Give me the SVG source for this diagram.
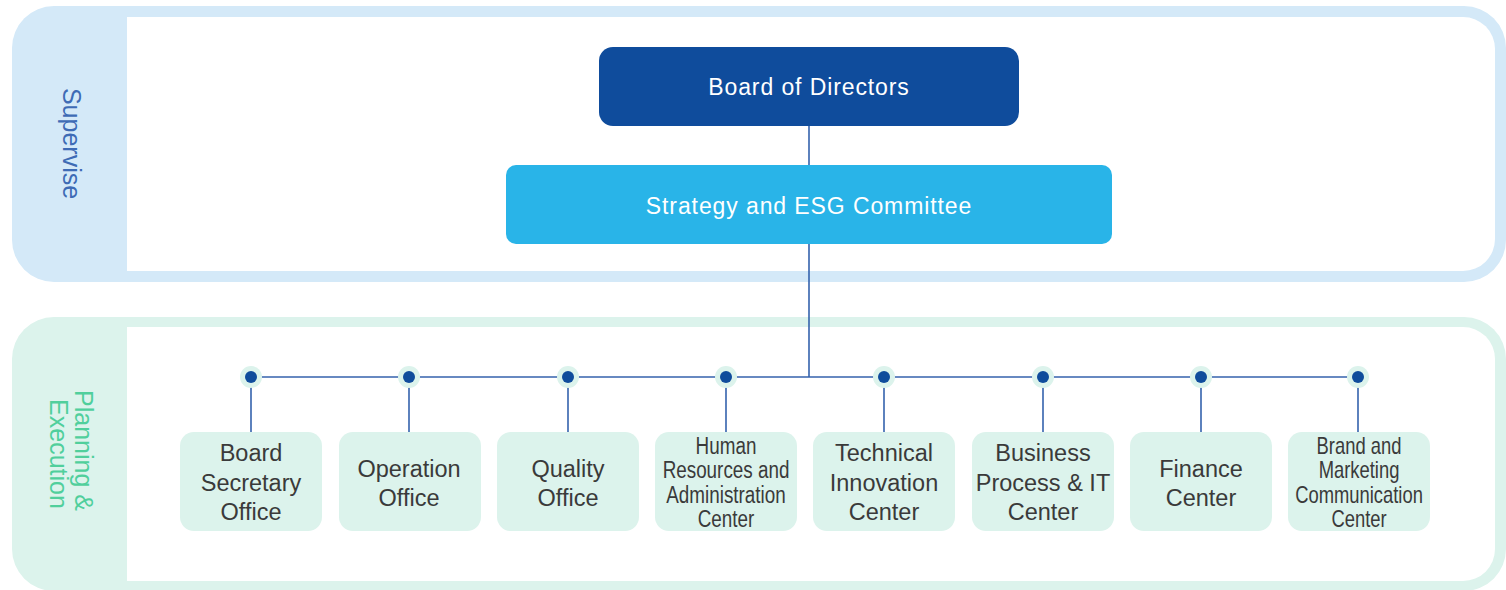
<svg xmlns="http://www.w3.org/2000/svg" width="1506" height="590" viewBox="0 0 1506 590">
  <style>
    .lbl { font-family: "Liberation Sans", Arial, sans-serif; }
    .unit rect { fill: #dcf3ec; }
    .unit text { font-family: "Liberation Sans", Arial, sans-serif; font-size: 23.5px; fill: #3a3a3a; text-anchor: middle; }
    .unit text.nar { font-size: 23px; }
    .head text { font-family: "Liberation Sans", Arial, sans-serif; font-size: 23px; letter-spacing: 0.9px; fill: #ffffff; text-anchor: middle; }
    .conn line { stroke: #3462ad; stroke-width: 1.6; }
    .dot-ring { fill: #dcf3ec; }
    .dot-core { fill: #0f4c9c; }
  </style>

  <!-- Supervise band -->
  <g id="band-supervise">
    <rect x="12" y="6" width="1494" height="276" rx="42" fill="#d4e9f8"/>
    <path d="M127 17 H1463 A32 32 0 0 1 1495 49 V239 A32 32 0 0 1 1463 271 H127 Z" fill="#ffffff"/>
    <text class="lbl" transform="translate(63 143.5) rotate(90)" text-anchor="middle" font-size="25" fill="#3e6bb5">Supervise</text>
  </g>

  <!-- Planning & Execution band -->
  <g id="band-execution">
    <rect x="12" y="317" width="1494" height="274" rx="42" fill="#dcf3ec"/>
    <path d="M127 327 H1463 A32 32 0 0 1 1495 359 V549 A32 32 0 0 1 1463 581 H127 Z" fill="#ffffff"/>
    <text class="lbl" transform="translate(75 454) rotate(90)" text-anchor="middle" font-size="25" fill="#50cf9c">
      <tspan x="0" y="0">Planning &amp;</tspan>
      <tspan x="0" y="25">Execution</tspan>
    </text>
  </g>

  <!-- Connectors -->
  <g id="connectors" class="conn">
    <line x1="809" y1="126" x2="809" y2="165"/>
    <line x1="809" y1="244" x2="809" y2="377"/>
    <line x1="251" y1="377" x2="1358" y2="377"/>
    <line x1="251" y1="377" x2="251" y2="432"/>
    <line x1="409" y1="377" x2="409" y2="432"/>
    <line x1="568" y1="377" x2="568" y2="432"/>
    <line x1="726" y1="377" x2="726" y2="432"/>
    <line x1="884" y1="377" x2="884" y2="432"/>
    <line x1="1043" y1="377" x2="1043" y2="432"/>
    <line x1="1201" y1="377" x2="1201" y2="432"/>
    <line x1="1358" y1="377" x2="1358" y2="432"/>
  </g>

  <!-- Junction dots -->
  <g id="junctions">
    <circle class="dot-ring" cx="251" cy="377" r="11"/><circle class="dot-core" cx="251" cy="377" r="6"/>
    <circle class="dot-ring" cx="409" cy="377" r="11"/><circle class="dot-core" cx="409" cy="377" r="6"/>
    <circle class="dot-ring" cx="568" cy="377" r="11"/><circle class="dot-core" cx="568" cy="377" r="6"/>
    <circle class="dot-ring" cx="726" cy="377" r="11"/><circle class="dot-core" cx="726" cy="377" r="6"/>
    <circle class="dot-ring" cx="884" cy="377" r="11"/><circle class="dot-core" cx="884" cy="377" r="6"/>
    <circle class="dot-ring" cx="1043" cy="377" r="11"/><circle class="dot-core" cx="1043" cy="377" r="6"/>
    <circle class="dot-ring" cx="1201" cy="377" r="11"/><circle class="dot-core" cx="1201" cy="377" r="6"/>
    <circle class="dot-ring" cx="1358" cy="377" r="11"/><circle class="dot-core" cx="1358" cy="377" r="6"/>
  </g>

  <!-- Governance heads -->
  <g id="board-of-directors" class="head">
    <rect x="599" y="47" width="420" height="79" rx="14" fill="#0f4c9c"/>
    <text x="809" y="95">Board of Directors</text>
  </g>
  <g id="strategy-esg-committee" class="head">
    <rect x="506" y="165" width="606" height="79" rx="10" fill="#29b4e8"/>
    <text x="809" y="214">Strategy and ESG Committee</text>
  </g>

  <!-- Executive units -->
  <g id="board-secretary-office" class="unit">
    <rect x="180" y="432" width="142" height="99" rx="14"/>
    <text x="251" y="461">Board</text>
    <text x="251" y="490.5">Secretary</text>
    <text x="251" y="520">Office</text>
  </g>
  <g id="operation-office" class="unit">
    <rect x="339" y="432" width="142" height="99" rx="14"/>
    <text x="409" y="476.5">Operation</text>
    <text x="409" y="505.5">Office</text>
  </g>
  <g id="quality-office" class="unit">
    <rect x="497" y="432" width="142" height="99" rx="14"/>
    <text x="568" y="476.5">Quality</text>
    <text x="568" y="505.5">Office</text>
  </g>
  <g id="hr-admin-center" class="unit">
    <rect x="655" y="432" width="142" height="99" rx="14"/>
    <g transform="translate(726 0) scale(0.82 1)">
      <text class="nar" x="0" y="454">Human</text>
      <text class="nar" x="0" y="478">Resources and</text>
      <text class="nar" x="0" y="503">Administration</text>
      <text class="nar" x="0" y="527">Center</text>
    </g>
  </g>
  <g id="technical-innovation-center" class="unit">
    <rect x="813" y="432" width="142" height="99" rx="14"/>
    <text x="884" y="461">Technical</text>
    <text x="884" y="490.5">Innovation</text>
    <text x="884" y="520">Center</text>
  </g>
  <g id="business-process-it-center" class="unit">
    <rect x="972" y="432" width="142" height="99" rx="14"/>
    <text x="1043" y="461">Business</text>
    <text x="1043" y="490.5">Process &amp; IT</text>
    <text x="1043" y="520">Center</text>
  </g>
  <g id="finance-center" class="unit">
    <rect x="1130" y="432" width="142" height="99" rx="14"/>
    <text x="1201" y="476.5">Finance</text>
    <text x="1201" y="505.5">Center</text>
  </g>
  <g id="brand-marketing-center" class="unit">
    <rect x="1288" y="432" width="142" height="99" rx="14"/>
    <g transform="translate(1359 0) scale(0.8 1)">
      <text class="nar" x="0" y="454">Brand and</text>
      <text class="nar" x="0" y="478">Marketing</text>
      <text class="nar" x="0" y="503">Communication</text>
      <text class="nar" x="0" y="527">Center</text>
    </g>
  </g>
</svg>
